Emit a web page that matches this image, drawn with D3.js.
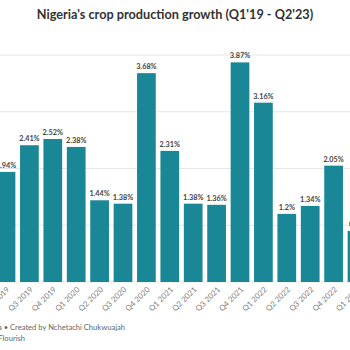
<!DOCTYPE html>
<html>
<head>
<meta charset="utf-8">
<script src="https://cdn.jsdelivr.net/npm/d3@7"></script>
<style>
  body { margin: 0; background: #fff; }
  svg { display: block; font-family: Lato, "Open Sans", sans-serif; }
</style>
</head>
<body>
<div id="chart"></div>
<script>
// quarters (the picture is a crop, first and last are off-screen)
var quarters = ["Q1 2019", "Q2 2019", "Q3 2019", "Q4 2019", "Q1 2020", "Q2 2020",
    "Q3 2020", "Q4 2020", "Q1 2021", "Q2 2021", "Q3 2021", "Q4 2021",
    "Q1 2022", "Q2 2022", "Q3 2022", "Q4 2022", "Q1 2023", "Q2 2023"];
var growth = [3.2, 1.94, 2.41, 2.52, 2.38, 1.44, 1.38, 3.68, 2.31, 1.38, 1.36, 3.87,
    3.16, 1.2, 1.34, 2.05, 0.9, 1.5];
var labels = ["3.2%", "1.94%", "2.41%", "2.52%", "2.38%", "1.44%", "1.38%", "3.68%", "2.31%",
    "1.38%", "1.36%", "3.87%", "3.16%", "1.2%", "1.34%", "2.05%", "0.9%", "1.5%"];
var yTicks = [0, 1, 2, 3, 4];

var width = 350, height = 350;

var svg = d3.select("#chart").append("svg")
    .attr("width", width)
    .attr("height", height);

var x = d3.scaleBand()
    .domain(quarters)
    .range([-29.1, 392.1])
    .paddingInner(0.2)
    .paddingOuter(0.1);

var y = d3.scaleLinear()
    .domain([0, 4])
    .range([282, 55]);

// title
svg.append("text")
    .attr("x", 175)
    .attr("y", 19)
    .attr("text-anchor", "middle")
    .attr("font-size", 12.7)
    .attr("font-weight", "bold")
    .attr("fill", "#333")
    .text("Nigeria's crop production growth (Q1'19 - Q2'23)");

// grid
svg.append("g").selectAll("line")
    .data(yTicks)
    .join("line")
    .attr("x1", -40)
    .attr("x2", width)
    .attr("y1", d => y(d))
    .attr("y2", d => y(d))
    .attr("stroke", "#e6e6e6")
    .attr("stroke-width", 1);

// bars
svg.append("g").selectAll("rect")
    .data(quarters)
    .join("rect")
    .attr("x", d => x(d))
    .attr("width", x.bandwidth())
    .attr("y", (d, i) => y(growth[i]))
    .attr("height", (d, i) => y(0) - y(growth[i]))
    .attr("fill", "#1a8797");

// value labels
svg.append("g").selectAll("text")
    .data(quarters)
    .join("text")
    .attr("x", d => x(d) + x.bandwidth() / 2)
    .attr("y", (d, i) => y(growth[i]) - 4)
    .attr("text-anchor", "middle")
    .attr("font-size", 7.3)
    .attr("font-weight", "bold")
    .attr("fill", "#444")
    .text((d, i) => labels[i]);

// x axis labels, rotated
svg.append("g").selectAll("text")
    .data(quarters)
    .join("text")
    .attr("transform", d => "translate(" + (x(d) + x.bandwidth() / 2 + 4) + ",290) rotate(-45)")
    .attr("text-anchor", "end")
    .attr("font-size", 7.8)
    .attr("fill", "#808080")
    .text(d => d);

// footer
svg.append("text")
    .attr("x", 125)
    .attr("y", 330)
    .attr("text-anchor", "end")
    .attr("font-size", 7.6)
    .attr("fill", "#666")
    .text("Source: NBS data • Created by Nchetachi Chukwuajah");

svg.append("text")
    .attr("x", 25)
    .attr("y", 341)
    .attr("text-anchor", "end")
    .attr("font-size", 7.6)
    .attr("fill", "#666")
    .text("A Flourish");
</script>
</body>
</html>
